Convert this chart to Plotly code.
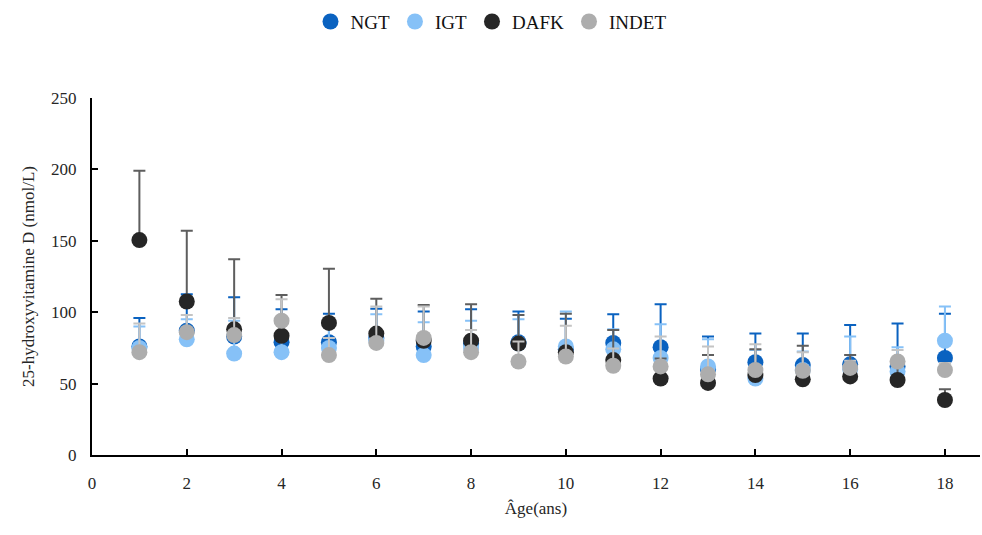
import plotly.graph_objects as go

# Age groups (years)
ages = list(range(1, 19))

# Mean 25-hydroxyvitamin D (nmol/L) per group and age
ngt = [76, 87, 83, 79, 79, 82, 76, 78, 79, 74, 78.5, 75.5, 60, 65, 63, 63.5, 62, 68]
igt = [75, 81, 71, 72, 75, 80, 70, 75, 78, 76, 74, 68, 62, 53.5, 59.5, 60, 58.5, 80]
dafk = [150.5, 107.5, 88, 83.5, 92.5, 85, 80, 80, 78, 72, 66.5, 53.5, 50.5, 56, 53, 55, 52.5, 38.5]
indet = [72, 86, 84, 94, 70, 78.5, 82, 72, 65.5, 69, 62.5, 62, 56.5, 59.5, 59, 61, 65.5, 59.5]

# Upper error (standard deviation, plus direction only)
ngt_err = [20, 25.5, 27.5, 23, 20, 20.5, 24.5, 24, 21.5, 21.5, 20, 30, 23, 20, 22, 27.5, 30, 31]
igt_err = [15, 14, 23, 22, 15, 18.5, 23, 19, 17, 24.5, 14, 23.5, 19, 20, 13, 23, 17, 24]
dafk_err = [48.5, 49.5, 49, 28.5, 38, 24.5, 25, 25.5, 20, 27, 21, 14, 19.5, 18, 23.5, 15, 10, 7.5]
indet_err = [20, 12, 12, 15, 12, 25.5, 22, 15.5, 14, 21.5, 12, 21, 19.5, 18, 13, 5, 8, 5]

series = [
    ("NGT", ngt, ngt_err, "#0A62C0", "#0A62C0"),
    ("IGT", igt, igt_err, "#86C1F7", "#86C1F7"),
    ("DAFK", dafk, dafk_err, "#262626", "#5E5E5E"),
    ("INDET", indet, indet_err, "#ADADAD", "#C4C4C4"),
]

fig = go.Figure()
for name, vals, errs, color, ecolor in series:
    fig.add_trace(go.Scatter(
        x=ages, y=vals, name=name, mode="markers",
        marker=dict(color=color, size=16, line=dict(width=0)),
        error_y=dict(type="data", array=errs, arrayminus=[0] * len(errs),
                     symmetric=False, color=ecolor, thickness=2, width=6),
    ))

font_family = "Liberation Serif, Times New Roman, serif"

fig.update_layout(
    width=982, height=535,
    margin=dict(l=92, r=2, t=98, b=80),
    paper_bgcolor="white", plot_bgcolor="white",
    font=dict(family=font_family, size=17, color="#262626"),
    legend=dict(orientation="h", x=0.5, xanchor="center", xref="container",
                y=0.995, yanchor="top", yref="container",
                font=dict(family=font_family, size=19, color="#111111"),
                itemwidth=30, tracegroupgap=0, bgcolor="rgba(0,0,0,0)"),
    showlegend=True,
)

fig.update_xaxes(
    range=[0, 18.74], tickvals=list(range(0, 19, 2)),
    showline=True, linecolor="black", linewidth=2,
    ticks="inside", ticklen=6, tickwidth=1.5, tickcolor="black",
    showgrid=False, zeroline=False, ticklabelstandoff=12,
    title=dict(text="Âge(ans)", standoff=10, font=dict(size=17)),
)
fig.update_yaxes(
    range=[0, 250], tickvals=list(range(0, 251, 50)),
    showline=True, linecolor="black", linewidth=2,
    ticks="inside", ticklen=6, tickwidth=1.5, tickcolor="black",
    showgrid=False, zeroline=False, ticklabelstandoff=10,
    title=dict(text="25-hydroxyvitamine D (nmol/L)", standoff=12, font=dict(size=17)),
)

fig.write_html("out.html")
